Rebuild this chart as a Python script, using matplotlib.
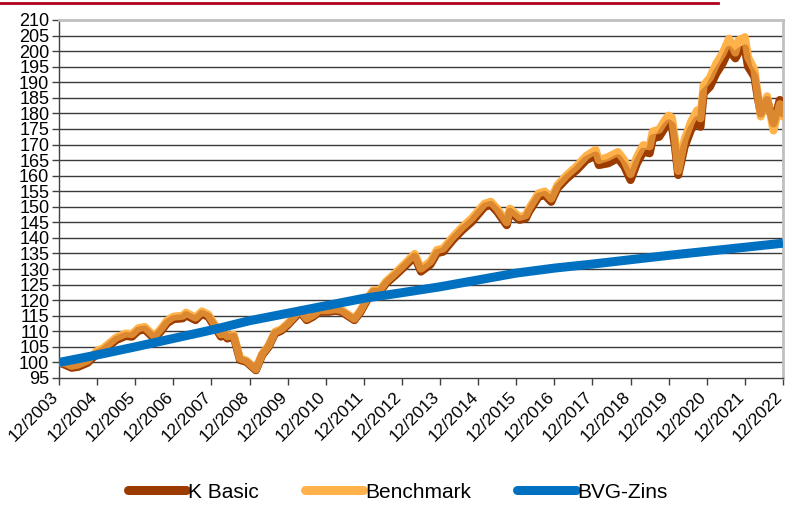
import matplotlib
matplotlib.use("Agg")
import matplotlib.pyplot as plt
from matplotlib.lines import Line2D
from matplotlib import font_manager
from matplotlib.transforms import ScaledTranslation

# ---------------- data ----------------
kb_dates = ["2003-12","2004-02","2004-04","2004-06","2004-09","2004-12","2005-02","2005-06","2005-09","2005-11",
            "2006-01","2006-03","2006-06","2006-08","2006-10","2006-12","2007-03","2007-04","2007-07","2007-09",
            "2007-11","2008-01","2008-03","2008-04","2008-05","2008-07","2008-09","2008-11","2009-02","2009-04",
            "2009-06","2009-08","2009-10","2009-12","2010-02","2010-04","2010-06","2010-08","2010-10","2011-01",
            "2011-03","2011-05","2011-09","2011-11","2012-01","2012-03","2012-05","2012-07","2012-10","2013-01",
            "2013-04","2013-06","2013-09","2013-11","2014-01","2014-04","2014-07","2014-10","2015-02","2015-04",
            "2015-06","2015-09","2015-10","2016-01","2016-03","2016-04","2016-07","2016-09","2016-11","2017-01",
            "2017-04","2017-07","2017-10","2018-01","2018-02","2018-05","2018-08","2018-10","2018-12","2019-02",
            "2019-04","2019-06","2019-07","2019-09","2019-11","2019-12","2020-01","2020-02","2020-03","2020-05",
            "2020-07","2020-09","2020-10","2020-11","2021-01","2021-03","2021-05","2021-07","2021-09","2021-10",
            "2021-12","2022-01","2022-03","2022-04","2022-05","2022-07","2022-09","2022-11","2022-12"]
k_basic = [100.0, 99.2, 98.3, 98.6, 99.9, 102.9, 103.8, 107.2, 108.5, 108.3,
           110.2, 110.6, 107.7, 109.9, 112.6, 113.9, 114.2, 115.2, 113.6, 115.6,
           114.7, 111.5, 108.3, 109.4, 107.7, 108.3, 100.8, 100.2, 97.5, 102.4,
           105.0, 109.3, 110.2, 112.0, 114.2, 116.3, 113.6, 114.7, 116.3, 116.3,
           116.6, 116.3, 113.6, 116.3, 120.0, 122.7, 122.7, 125.4, 128.1, 131.0,
           134.0, 129.2, 131.5, 135.1, 135.6, 139.3, 142.5, 145.2, 150.0, 150.6,
           148.4, 144.1, 148.4, 145.8, 146.3, 148.4, 153.2, 153.8, 151.6, 156.0,
           159.2, 161.8, 165.0, 166.5, 163.4, 164.0, 165.6, 163.0, 158.6, 164.0,
           167.7, 167.2, 172.0, 172.5, 175.7, 176.8, 176.0, 169.3, 160.2, 169.3,
           174.7, 177.9, 175.7, 186.5, 188.6, 192.9, 196.1, 200.4, 197.7, 199.6,
           200.9, 195.0, 191.8, 185.4, 180.0, 184.3, 176.8, 184.3, 180.0]
benchmark = [100.0, 99.8, 98.9, 99.3, 100.6, 103.7, 104.6, 108.0, 109.3, 109.1,
             111.0, 111.4, 108.4, 110.7, 113.4, 114.7, 115.0, 116.0, 114.4, 116.4,
             115.4, 112.2, 109.0, 110.1, 108.4, 108.9, 101.3, 100.6, 97.8, 102.8,
             105.4, 109.8, 110.7, 112.5, 114.7, 116.8, 114.1, 115.2, 116.8, 116.8,
             117.1, 116.8, 114.0, 116.8, 120.5, 123.2, 123.2, 126.0, 128.8, 131.8,
             134.9, 130.1, 132.5, 136.1, 136.6, 140.3, 143.5, 146.3, 151.0, 151.6,
             149.4, 145.0, 149.4, 146.7, 147.3, 149.4, 154.3, 154.9, 152.6, 157.0,
             160.3, 163.0, 166.3, 168.3, 165.0, 166.0, 167.6, 165.0, 160.5, 166.0,
             169.8, 169.4, 174.2, 174.8, 178.1, 179.3, 178.6, 171.7, 161.5, 171.6,
             177.2, 181.0, 178.4, 189.0, 191.5, 196.0, 199.3, 204.0, 199.5, 203.5,
             204.5, 198.0, 194.0, 186.5, 179.0, 185.5, 174.5, 183.0, 179.0]

bvg_dates = ["2003-12","2004-12","2005-12","2006-12","2007-12","2008-12","2009-12","2010-12","2011-12","2012-12",
             "2013-12","2014-12","2015-12","2016-12","2017-12","2018-12","2019-12","2020-12","2021-12","2022-12"]
bvg_zins = [100.0, 102.4, 105.0, 107.7, 110.4, 113.4, 115.8, 118.2, 120.6, 122.4,
            124.3, 126.5, 128.7, 130.3, 131.6, 133.0, 134.4, 135.7, 137.0, 138.3]

tick_labels = ["12/%d" % y for y in range(2003, 2023)]
y_ticks = list(range(95, 211, 5))

series_names = ["K Basic", "Benchmark", "BVG-Zins"]

# ---------------- helpers ----------------
def month_index(s):
    y, m = s.split("-")
    return (int(y) - 2003) * 12 + (int(m) - 12)

kb_x = [month_index(d) for d in kb_dates]
bvg_x = [month_index(d) for d in bvg_dates]
tick_pos = [month_index("%d-12" % y) for y in range(2003, 2023)]

avail = {f.name for f in font_manager.fontManager.ttflist}
tick_font = "Liberation Sans" if "Liberation Sans" in avail else "DejaVu Sans"
leg_font = "Liberation Sans Narrow" if "Liberation Sans Narrow" in avail else tick_font

C_KB = "#9C3B00"
C_BM = "#FFB24A"
C_BVG = "#0070C0"

fig = plt.figure(figsize=(7.87, 5.05), dpi=100)
ax = fig.add_axes([59/787, 1-378/505, (783-59)/787, (378-20)/505])

for v in y_ticks[1:-1]:
    ax.axhline(v, color="#3a3a3a", lw=1.0, zorder=1)

lw = 5.8
ax.plot(kb_x, k_basic, color=C_KB, lw=lw, solid_capstyle="round", solid_joinstyle="round", zorder=3)
ax.plot(kb_x, benchmark, color=C_BM, lw=lw, solid_capstyle="round", solid_joinstyle="round", zorder=4)
ax.plot(kb_x, k_basic, color=C_KB, lw=lw, alpha=0.35, solid_capstyle="round", solid_joinstyle="round", zorder=5)
ax.plot(bvg_x, bvg_zins, color=C_BVG, lw=6.5, solid_capstyle="butt", zorder=6)

ax.set_xlim(0, 228)
ax.set_ylim(95, 210)
ax.set_yticks(y_ticks)
ax.set_yticklabels([str(v) for v in y_ticks], fontsize=13, family=tick_font)
ax.set_xticks(tick_pos)
ax.set_xticklabels(tick_labels, fontsize=12.5, family=tick_font, rotation=45,
                   ha="right", va="top", rotation_mode="anchor")
ax.tick_params(axis="y", direction="out", length=5, width=1, color="#404040", pad=2)
ax.tick_params(axis="x", direction="out", length=5, width=1, color="#404040", pad=3)

shift = ScaledTranslation(-8/100, 0, fig.dpi_scale_trans)
for lab in ax.get_xticklabels():
    lab.set_transform(lab.get_transform() + shift)

for s in ["left", "bottom"]:
    ax.spines[s].set_color("#404040")
    ax.spines[s].set_linewidth(1.0)
for s in ["top", "right"]:
    ax.spines[s].set_color("#C0C0C0")
    ax.spines[s].set_linewidth(2.0)

fig.add_artist(Line2D([0, 718/787], [1-3/505, 1-3/505], color="#B0001E", lw=2, transform=fig.transFigure))

handles = [Line2D([], [], color=C_KB, lw=6.5, solid_capstyle="round"),
           Line2D([], [], color=C_BM, lw=6.5, solid_capstyle="round"),
           Line2D([], [], color=C_BVG, lw=6.5, solid_capstyle="round")]
fig.legend(handles, series_names, loc="center", bbox_to_anchor=(398/787, 1-492/505), ncol=3,
           frameon=False, prop={"family": leg_font, "size": 15}, handlelength=2.8,
           handletextpad=0.1, columnspacing=2.2)

fig.savefig("out.png", dpi=100)
